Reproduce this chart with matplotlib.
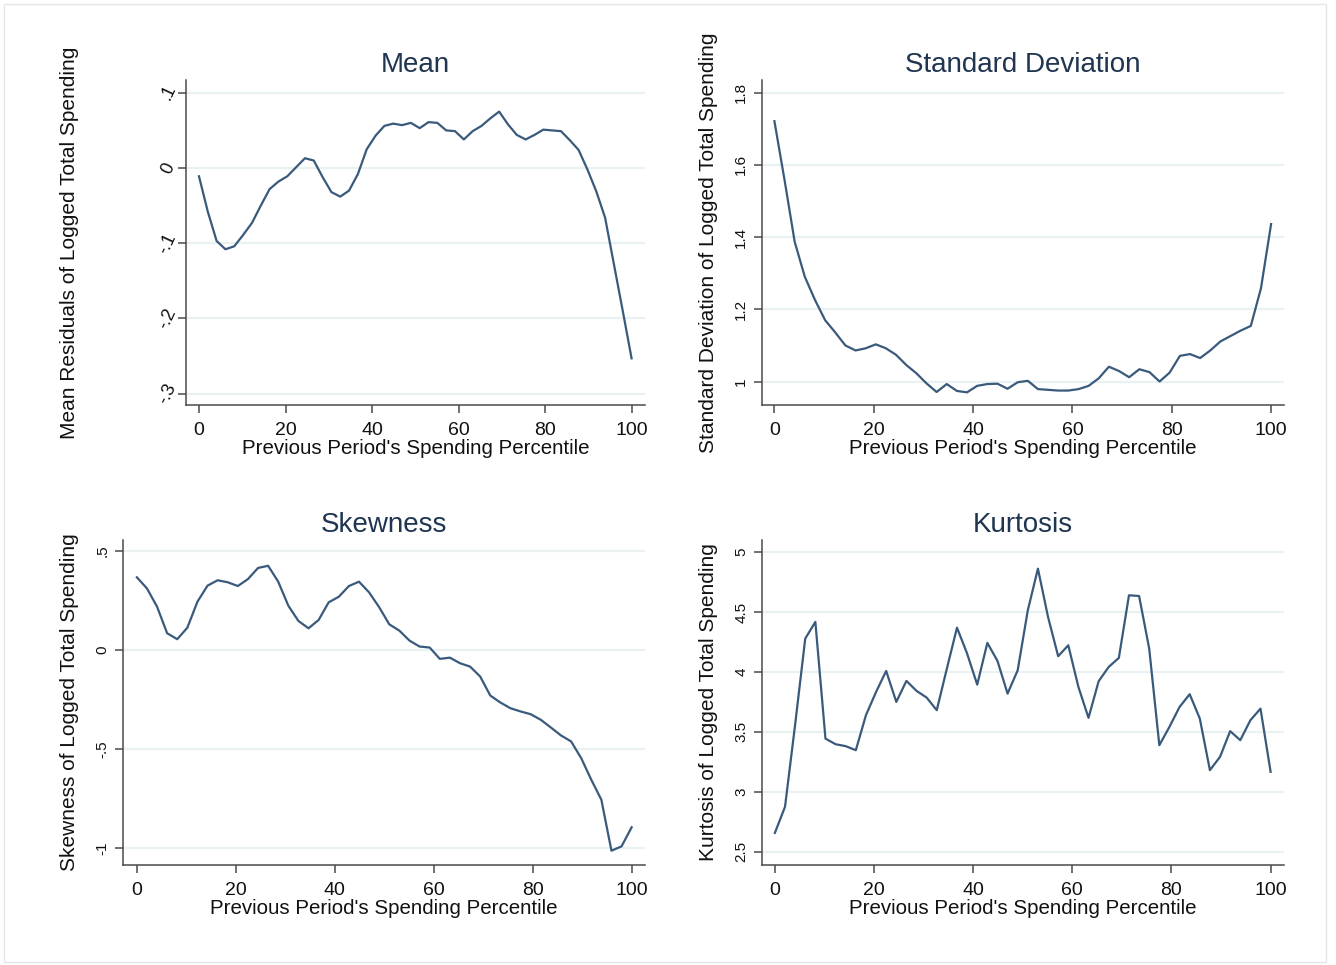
import numpy as np
import matplotlib
matplotlib.use('Agg')
import matplotlib.pyplot as plt
from matplotlib.patches import Rectangle

plt.rcParams['font.family'] = ['Liberation Sans', 'DejaVu Sans']

# ---------------- data ----------------
percentile = np.linspace(0, 100, 50)

mean_resid = [-0.011, -0.058, -0.097, -0.108, -0.104, -0.089, -0.073, -0.050, -0.028, -0.018,
              -0.011, 0.001, 0.013, 0.010, -0.012, -0.032, -0.038, -0.030, -0.008, 0.025,
              0.043, 0.056, 0.059, 0.057, 0.060, 0.053, 0.061, 0.060, 0.050, 0.049,
              0.038, 0.049, 0.056, 0.066, 0.075, 0.058, 0.044, 0.038, 0.044, 0.051,
              0.050, 0.049, 0.037, 0.024, -0.002, -0.031, -0.066, -0.128, -0.190, -0.253]

sd_vals = [1.721, 1.558, 1.387, 1.290, 1.226, 1.170, 1.136, 1.100, 1.086, 1.092,
           1.103, 1.092, 1.074, 1.046, 1.023, 0.995, 0.971, 0.993, 0.974, 0.970,
           0.988, 0.993, 0.994, 0.980, 0.998, 1.002, 0.979, 0.977, 0.975, 0.975,
           0.979, 0.988, 1.009, 1.041, 1.029, 1.012, 1.034, 1.026, 1.000, 1.025,
           1.071, 1.076, 1.065, 1.086, 1.111, 1.126, 1.141, 1.154, 1.258, 1.436]

skew_vals = [0.366, 0.310, 0.218, 0.084, 0.054, 0.112, 0.243, 0.324, 0.351, 0.341,
             0.322, 0.357, 0.413, 0.424, 0.344, 0.223, 0.146, 0.109, 0.151, 0.240,
             0.268, 0.322, 0.344, 0.290, 0.215, 0.129, 0.097, 0.047, 0.017, 0.012,
             -0.045, -0.039, -0.067, -0.084, -0.134, -0.230, -0.265, -0.294, -0.310, -0.324,
             -0.352, -0.391, -0.431, -0.461, -0.545, -0.654, -0.755, -1.012, -0.990, -0.894]

kurt_vals = [2.658, 2.875, 3.560, 4.278, 4.417, 3.444, 3.397, 3.381, 3.347, 3.639,
             3.833, 4.008, 3.750, 3.925, 3.842, 3.786, 3.681, 4.028, 4.369, 4.153,
             3.894, 4.242, 4.092, 3.819, 4.014, 4.514, 4.861, 4.458, 4.131, 4.222,
             3.875, 3.617, 3.922, 4.042, 4.117, 4.639, 4.633, 4.194, 3.389, 3.542,
             3.708, 3.814, 3.611, 3.181, 3.292, 3.506, 3.431, 3.597, 3.694, 3.167]

x_ticks = [0, 20, 40, 60, 80, 100]
x_label = "Previous Period's Spending Percentile"

mean_yticks = [0.1, 0, -0.1, -0.2, -0.3]
mean_ylabels = ['.1', '0', '-.1', '-.2', '-.3']
sd_yticks = [1.0, 1.2, 1.4, 1.6, 1.8]
sd_ylabels = ['1', '1.2', '1.4', '1.6', '1.8']
skew_yticks = [0.5, 0, -0.5, -1]
skew_ylabels = ['.5', '0', '-.5', '-1']
kurt_yticks = [2.5, 3, 3.5, 4, 4.5, 5]
kurt_ylabels = ['2.5', '3', '3.5', '4', '4.5', '5']

# ---------------- layout ----------------
W, H = 1336, 965
fig = plt.figure(figsize=(W / 100, H / 100), dpi=100)
fig.patch.set_facecolor('white')

LINE = '#3a5a7c'
GRID = '#e9f1f2'
SPINE = '#4a4a4a'
TITLE = '#1f3550'

panels = [
    dict(rect=(186, 80, 645, 405), y=mean_resid, ylim=(-0.315, 0.117),
         yt=mean_yticks, ytl=mean_ylabels, title='Mean',
         ylab='Mean Residuals of Logged Total Spending', ylab_x=70, yrot=65,
         ysize=13, ypad=7, xlim=(-3.0, 103.1)),
    dict(rect=(762, 80, 1284, 405), y=sd_vals, ylim=(0.935, 1.835),
         yt=sd_yticks, ytl=sd_ylabels, title='Standard Deviation',
         ylab='Standard Deviation of Logged Total Spending', ylab_x=709, yrot=90,
         ysize=11, ypad=9, xlim=(-2.5, 102.6)),
    dict(rect=(123, 540, 645, 865), y=skew_vals, ylim=(-1.084, 0.554),
         yt=skew_yticks, ytl=skew_ylabels, title='Skewness',
         ylab='Skewness of Logged Total Spending', ylab_x=70, yrot=90,
         ysize=11, ypad=9, xlim=(-2.8, 102.7)),
    dict(rect=(762, 540, 1284, 865), y=kurt_vals, ylim=(2.39, 5.1),
         yt=kurt_yticks, ytl=kurt_ylabels, title='Kurtosis',
         ylab='Kurtosis of Logged Total Spending', ylab_x=709, yrot=90,
         ysize=11, ypad=9, xlim=(-2.6, 102.7)),
]

for p in panels:
    l, t, r, b = p['rect']
    ax = fig.add_axes([l / W, 1 - b / H, (r - l) / W, (b - t) / H])
    ax.plot(percentile, p['y'], color=LINE, lw=1.6, solid_joinstyle='round', zorder=3)
    ax.set_xlim(*p['xlim'])
    ax.set_ylim(*p['ylim'])
    ax.set_xticks(x_ticks)
    ax.set_xticklabels([str(v) for v in x_ticks])
    ax.set_yticks(p['yt'])
    ax.set_yticklabels(p['ytl'], rotation=p['yrot'], va='center', ha='center')
    for v in p['yt']:
        ax.axhline(v, color=GRID, lw=1.6, zorder=1)
    for s in ['top', 'right']:
        ax.spines[s].set_visible(False)
    for s in ['left', 'bottom']:
        ax.spines[s].set_color(SPINE)
        ax.spines[s].set_linewidth(1.1)
    ax.tick_params(axis='x', direction='out', length=6, width=1.1, color=SPINE,
                   labelsize=14, pad=6, labelcolor='#111111')
    ax.tick_params(axis='y', direction='out', length=6, width=1.1, color=SPINE,
                   labelsize=p['ysize'], pad=p['ypad'], labelcolor='#111111')
    ax.set_title(p['title'], fontsize=20, color=TITLE, pad=6)
    ax.set_xlabel(x_label, fontsize=14.8, color='#111111')
    ax.xaxis.set_label_coords(0.5, -44 / (b - t))
    ax.xaxis.label.set_va('center')
    ax.set_ylabel(p['ylab'], fontsize=15, color='#111111')
    ax.yaxis.set_label_coords((p['ylab_x'] - l) / (r - l), 0.5)
    ax.yaxis.label.set_va('center')
    ax.set_facecolor('white')

# faint outer frame
fig.patches.append(Rectangle((4 / W, 3 / H), 1322 / W, 958 / H, transform=fig.transFigure,
                             fill=False, edgecolor='#e6e6e6', lw=1.0))

fig.savefig('out.png', dpi=100, facecolor='white')
